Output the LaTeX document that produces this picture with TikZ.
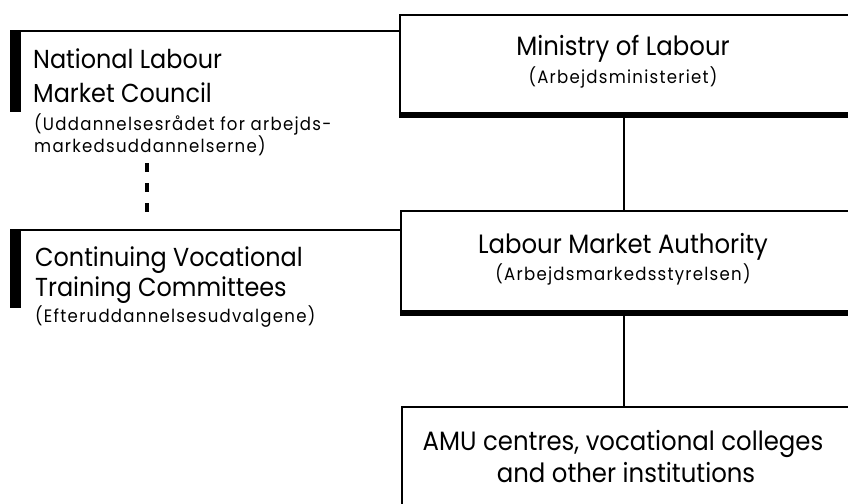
\documentclass[tikz,border=0pt]{standalone}
\usepackage{fontspec}
\setmainfont[FakeStretch=0.92]{Poppins}
\newfontfamily\subfont[FakeStretch=0.92,LetterSpace=7]{Poppins}
\begin{document}
\begin{tikzpicture}[x=1pt,y=-1pt,
  boxline/.style={line width=1.8pt},
  shadowline/.style={line width=5pt},
  orgbox/.style={draw, boxline, anchor=north west, inner sep=0pt, minimum width=480pt},
  sidebar/.style={fill=black, anchor=north west, inner sep=0pt, minimum width=11pt},
  big/.style={font=\fontsize{26}{26}\selectfont, inner sep=0pt},
  mid/.style={font=\fontsize{26.5}{26.5}\selectfont, inner sep=0pt},
  small/.style={font=\subfont\fontsize{18}{18}\selectfont, inner sep=0pt},
  dotline/.style={line width=4pt, dash pattern=on 9pt off 11pt}]
\useasboundingbox (0,0) rectangle (848,503);
\clip (0,0) rectangle (848,503);
\fill[white] (0,0) rectangle (848,503);
% axis of the right column
\coordinate (axis) at (624,0);
% right column boxes
\node[orgbox, minimum height=98pt] (minbox) at (399,14) {};
\node[orgbox, minimum height=100pt] (lmabox) at (400,210) {};
\node[orgbox, minimum height=200pt] (amubox) at (401,406) {};
\draw[shadowline] ([yshift=-1.5pt]minbox.south west) -- ([yshift=-1.5pt]minbox.south east);
\draw[shadowline] ([yshift=-1.5pt]lmabox.south west) -- ([yshift=-1.5pt]lmabox.south east);
% connectors
\draw[boxline] (minbox.south -| axis) -- (lmabox.north -| axis);
\draw[boxline] (lmabox.south -| axis) -- (amubox.north -| axis);
% left units
\coordinate (nlmcCorner) at (10,31);
\coordinate (cvtcCorner) at (10,230);
\node[sidebar, minimum height=81pt] (nlmcbar) at (nlmcCorner) {};
\node[sidebar, minimum height=78pt] (cvtcbar) at (cvtcCorner) {};
\draw[boxline] (nlmcCorner) -- (nlmcCorner -| minbox.west);
\draw[boxline] (cvtcCorner) -- (cvtcCorner -| lmabox.west);
\coordinate (dotTop) at (147,163);
\coordinate (dotBot) at (147,212);
\draw[dotline] (dotTop) -- (dotBot);
% texts
\node[big, anchor=base west] (nlmc1) at (33,69) {National Labour};
\node[big, anchor=base west] (nlmc2) at (33,102) {Market Council};
\node[small, anchor=base west] (nlmc3) at (34,130) {(Uddannelsesrådet for arbejds-};
\node[small, anchor=base west] (nlmc4) at (34,152) {markedsuddannelserne)};
\node[big, anchor=base west] (cvtc1) at (35,266) {Continuing Vocational};
\node[big, anchor=base west] (cvtc2) at (35,296) {Training Committees};
\node[small, anchor=base west] (cvtc3) at (35,322) {(Efteruddannelsesudvalgene)};
\node[mid, anchor=base] (min1) at (623,56) {Ministry of Labour};
\node[small, anchor=base] (min2) at (623,83) {(Arbejdsministeriet)};
\node[mid, anchor=base] (lma1) at (623,253) {Labour Market Authority};
\node[small, anchor=base] (lma2) at (623,280) {(Arbejdsmarkedsstyrelsen)};
\node[mid, anchor=base] (amu1) at (623,450) {AMU centres, vocational colleges};
\node[mid, anchor=base] (amu2) at (626,482) {and other institutions};
\end{tikzpicture}
\end{document}
